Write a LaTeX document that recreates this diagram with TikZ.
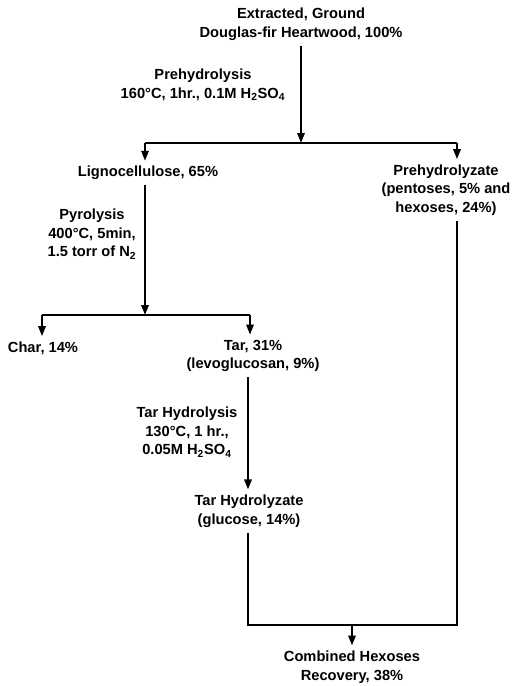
\documentclass[tikz,border=0pt]{standalone}
\usepackage{fontspec}
\setmainfont{Liberation Sans}
\usetikzlibrary{positioning,arrows.meta}

\tikzset{
  stage/.style={align=center, font=\fontsize{11}{14}\selectfont\bfseries, inner sep=0pt, outer sep=4pt},
  cond/.style={stage},
  pipe/.style={line width=1.5pt},
  feed/.style={pipe, -{Triangle[length=7.5pt,width=5.5pt]}}
}

\begin{document}
\begin{tikzpicture}[x=0.75pt, y=-0.75pt]
\useasboundingbox (0,0) rectangle (513,686);

% products
\node[stage] (wood) at (301,24) {Extracted, Ground\\Douglas-fir Heartwood, 100\%};
\node[stage] (ligno) at (148,173) {Lignocellulose, 65\%};
\node[stage] (prehyd) at (446,190) {Prehydrolyzate\\(pentoses, 5\% and\\hexoses, 24\%)};
\node[stage] (char) at (43,348) {Char, 14\%};
\node[stage] (tar) at (253,356) {Tar, 31\%\\(levoglucosan, 9\%)};
\node[stage] (tarhyd) at (249,511) {Tar Hydrolyzate\\(glucose, 14\%)};
\node[stage] (combined) at (352,667) {Combined Hexoses\\Recovery, 38\%};

% process conditions
\node[cond] (prehydrolysis) at (203,85) {Prehydrolysis\\160°C, 1hr., 0.1M H\textsubscript{2}SO\textsubscript{4}};
\node[cond] (pyrolysis) at (92,234) {Pyrolysis\\400°C, 5min,\\1.5 torr of N\textsubscript{2}};
\node[cond] (tarhydrolysis) at (187,432) {Tar Hydrolysis\\130°C, 1 hr.,\\0.05M H\textsubscript{2}SO\textsubscript{4}};

% junctions
\coordinate (splitA) at (301,143);
\coordinate (splitAL) at (145,143);
\coordinate (splitAR) at (457,143);
\coordinate (splitB) at (145,315);
\coordinate (splitBL) at (42,315);
\coordinate (splitBR) at (250,315);
\coordinate (joinL) at (248,625);
\coordinate (joinR) at (457,625);
\coordinate (join) at (352,625);

\draw[feed] (wood.south -| splitA) -- (splitA);
\draw[pipe] (splitAL) -- (splitAR);
\draw[feed] (splitAL) -- (ligno.north -| splitAL);
\draw[feed] (splitAR) -- (prehyd.north -| splitAR);

\draw[feed] (ligno.south -| splitB) -- (splitB);
\draw[pipe] (splitBL) -- (splitBR);
\draw[feed] (splitBL) -- (char.north -| splitBL);
\draw[feed] (splitBR) -- (tar.north -| splitBR);

\draw[feed] (tar.south -| joinL) -- (tarhyd.north -| joinL);
\draw[pipe] (tarhyd.south -| joinL) -- (joinL) -- (joinR) -- (prehyd.south -| joinR);
\draw[feed] (join) -- (combined.north -| join);
\end{tikzpicture}
\end{document}
